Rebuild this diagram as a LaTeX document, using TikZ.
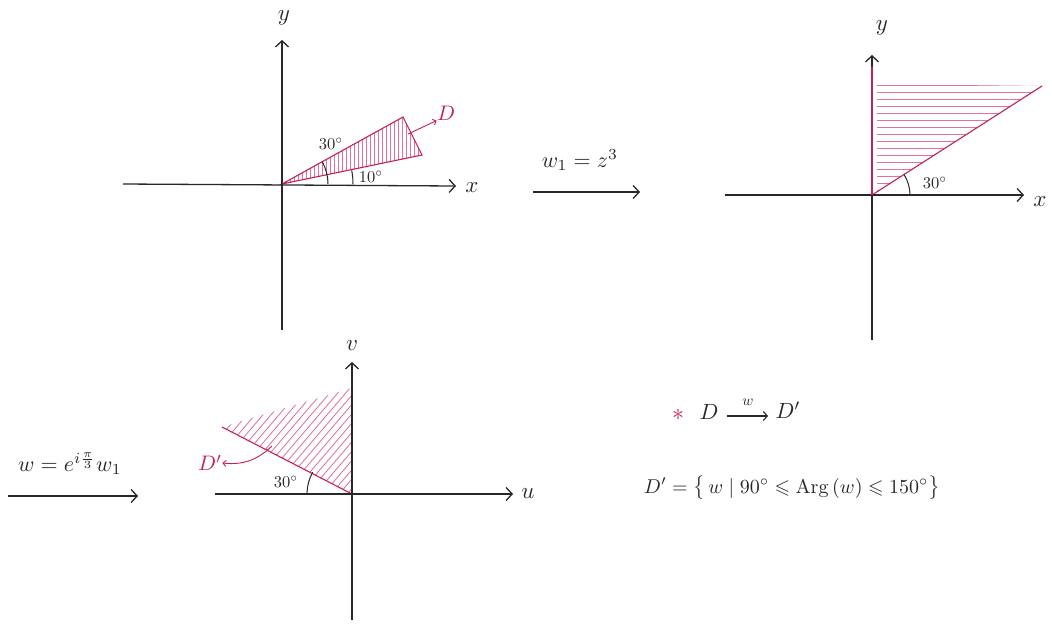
\documentclass[tikz,border=0pt]{standalone}
\usepackage{amsmath,amssymb}
\usetikzlibrary{arrows.meta}
\definecolor{redline}{RGB}{195,35,80}
\definecolor{hatchc}{RGB}{226,115,150}
\definecolor{ink}{RGB}{40,40,40}
\begin{document}
\begin{tikzpicture}[x=1pt,y=-1pt,
  axisline/.style={line width=1.3pt, draw=ink, -{Straight Barb[length=6pt,width=13pt,line width=1.3pt]}},
  maparrow/.style={line width=1.3pt, draw=ink, -{Straight Barb[length=6pt,width=13pt,line width=1.3pt]}},
  axlabel/.style={scale=2.3, text=ink, inner sep=0pt},
  anglabel/.style={scale=1.65, text=ink, inner sep=0pt},
  formula/.style={scale=2.2, text=ink, inner sep=0pt},
  setfont/.style={scale=2.0, text=ink, inner sep=0pt},
  redlabel/.style={scale=2.1, text=redline, inner sep=0pt},
  edge1/.style={draw=redline, line width=1.1pt},
  hatch/.style={draw=hatchc, line width=0.8pt},
  arcline/.style={draw=ink, line width=1pt},
  smallarrow/.style={draw=redline, line width=0.9pt, -{Straight Barb[length=3pt,width=6pt,line width=0.9pt]}}
]
\useasboundingbox (0,0) rectangle (1052,625);
\fill[white] (0,0) rectangle (1052,625);

% ---------- top-left plot ----------
\coordinate (O1) at (282,184);
\coordinate (y1b) at (282,330);
\coordinate (y1t) at (282,40);
\coordinate (x1l) at (123,184);
\coordinate (x1r) at (456,186);
\coordinate (A1) at (403,117);
\coordinate (B1) at (422,155);
\begin{scope}
  \clip (O1) -- (A1) -- (B1) -- cycle;
  \foreach \x in {286,290,...,426} \draw[hatch] (\x,100) -- (\x,192);
\end{scope}
\draw[edge1] (O1) -- (A1) -- (B1) -- cycle;
\draw[axisline] (y1b) -- (y1t);
\draw[axisline] (x1l) -- (x1r);
\node[axlabel] (ylab1) at (284,18) {$y$};
\node[axlabel] (xlab1) at (472,188) {$x$};
\draw[arcline] (O1) ++(0:46) arc[start angle=0,end angle=-29,radius=46];
\draw[arcline] (O1) ++(0:71) arc[start angle=0,end angle=-11,radius=71];
\node[anglabel] (a30) at (331,144) {$30^\circ$};
\node[anglabel] (a10) at (371,177) {$10^\circ$};
\node[redlabel] (D1) at (446,113) {$D$};
\coordinate (d1s) at (408,134);
\draw[smallarrow] (d1s) -- (D1.south west);

% ---------- middle arrow ----------
\coordinate (m1s) at (533,192);
\coordinate (m1e) at (640,192);
\draw[maparrow] (m1s) -- (m1e);
\node[formula] (map1) at (580,160) {$w_1 = z^3$};

% ---------- top-right plot ----------
\coordinate (O2) at (872,195);
\coordinate (y2b) at (872,340);
\coordinate (y2t) at (872,55);
\coordinate (x2l) at (725,195);
\coordinate (x2r) at (1024,195);
\coordinate (T2) at (872,84);
\coordinate (C2) at (1042,86);
\begin{scope}
  \clip (O2) -- (T2) -- (C2) -- cycle;
  \foreach \y in {85,92,...,194} \draw[hatch] (877,\y) -- (1050,\y);
\end{scope}
\draw[edge1] (O2) -- (C2);
\draw[axisline] (y2b) -- (y2t);
\draw[axisline] (x2l) -- (x2r);
\draw[draw=redline, line width=2pt] (O2) -- (872,67);
\node[axlabel] (ylab2) at (882,28) {$y$};
\node[axlabel] (xlab2) at (1040,202) {$x$};
\draw[arcline] (O2) ++(0:38) arc[start angle=0,end angle=-33,radius=38];
\node[anglabel] (b30) at (935,183) {$30^\circ$};

% ---------- bottom-left arrow ----------
\coordinate (m2s) at (8,496);
\coordinate (m2e) at (138,496);
\draw[maparrow] (m2s) -- (m2e);
\node[formula] (map2) at (70,464) {$w = e^{i\frac{\pi}{3}} w_1$};

% ---------- bottom plot ----------
\coordinate (O3) at (352,494);
\coordinate (v3b) at (352,620);
\coordinate (v3t) at (352,362);
\coordinate (u3l) at (215,494);
\coordinate (u3r) at (513,494);
\coordinate (L3) at (222,427);
\coordinate (T3) at (352,388);
\begin{scope}
  \clip (O3) -- (L3) -- (T3) -- cycle;
  \foreach \s in {150,158,...,470} \draw[hatch] (\s,500) -- ++(120,-140);
\end{scope}
\draw[edge1] (O3) -- (L3);
\draw[axisline] (v3b) -- (v3t);
\draw[axisline] (u3l) -- (u3r);
\node[axlabel] (vlab) at (352,346) {$v$};
\node[axlabel] (ulab) at (528,494) {$u$};
\draw[arcline] (O3) ++(180:45) arc[start angle=180,end angle=209,radius=45];
\node[anglabel] (c30) at (286,482) {$30^\circ$};
\node[redlabel] (Dp3) at (210,463) {$D'$};
\coordinate (d3s) at (272,446);
\draw[smallarrow] (d3s) to[bend left=25] (Dp3.east);

% ---------- bottom-right text ----------
\node[scale=2.4, text=redline, inner sep=0pt] (ast) at (678,415) {$*$};
\node[formula] (Dm) at (709,412) {$D$};
\node[formula] (Dpm) at (788,410) {$D'$};
\coordinate (wa) at (727,416);
\coordinate (wb) at (768,416);
\draw[draw=ink, line width=1.1pt, -{Straight Barb[length=4pt,width=9pt,line width=1.1pt]}] (wa) -- (wb);
\node[scale=1.5, text=ink, inner sep=0pt] (wlab) at (748,402) {$w$};
\node[setfont] (setD) at (792,488) {$D' = \bigl\{\, w \mid 90^\circ \leqslant \mathrm{Arg}\,(w) \leqslant 150^\circ \bigr\}$};
\end{tikzpicture}
\end{document}
